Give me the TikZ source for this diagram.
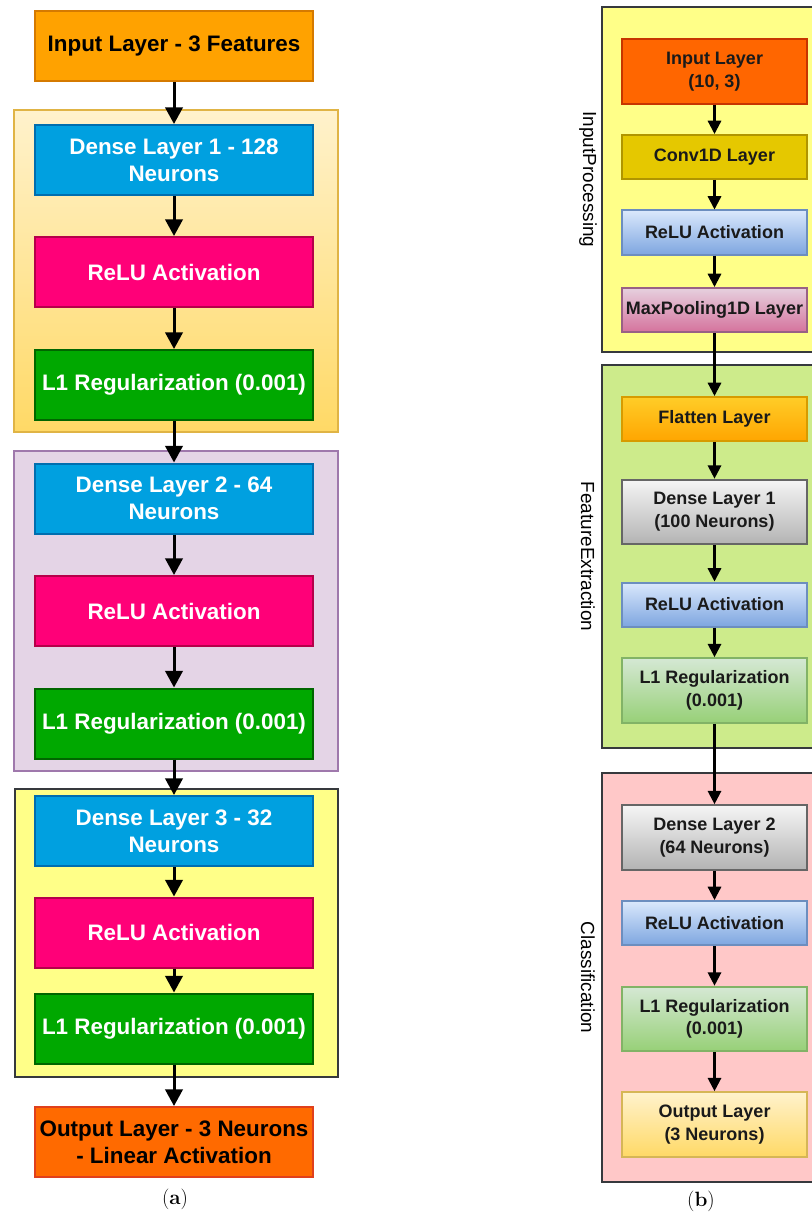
\documentclass[tikz,border=0pt]{standalone}
\usepackage{fontspec}
\usetikzlibrary{arrows.meta}
\newfontfamily\arialfont{Liberation Sans}

% left panel colours
\definecolor{inFill}{HTML}{FFA200}
\definecolor{inDraw}{HTML}{D57A00}
\definecolor{denseFill}{HTML}{00A0E0}
\definecolor{denseDraw}{HTML}{006EAF}
\definecolor{reluFill}{HTML}{FF0078}
\definecolor{reluDraw}{HTML}{B5004A}
\definecolor{regFill}{HTML}{00A800}
\definecolor{regDraw}{HTML}{006600}
\definecolor{outFill}{HTML}{FF6A00}
\definecolor{outDraw}{HTML}{E0401C}
\definecolor{gOneTop}{HTML}{FFF2CC}
\definecolor{gOneBot}{HTML}{FFD966}
\definecolor{gOneDraw}{HTML}{E0B445}
\definecolor{gTwoFill}{HTML}{E4D4E6}
\definecolor{gTwoDraw}{HTML}{9F78AC}
\definecolor{gThreeFill}{HTML}{FFFF88}
\definecolor{darkDraw}{HTML}{36393D}
% right panel colours
\definecolor{rInFill}{HTML}{FF6600}
\definecolor{rInDraw}{HTML}{C73500}
\definecolor{convFill}{HTML}{E5C800}
\definecolor{convDraw}{HTML}{B09500}
\definecolor{blueTop}{HTML}{DAE8FC}
\definecolor{blueBot}{HTML}{7EA6E0}
\definecolor{blueDraw}{HTML}{6C8EBF}
\definecolor{pinkTop}{HTML}{E6D0DE}
\definecolor{pinkBot}{HTML}{D5739D}
\definecolor{pinkDraw}{HTML}{996185}
\definecolor{orTop}{HTML}{FFCD28}
\definecolor{orBot}{HTML}{FFA500}
\definecolor{orDraw}{HTML}{D79B00}
\definecolor{grayTop}{HTML}{F5F5F5}
\definecolor{grayBot}{HTML}{B3B3B3}
\definecolor{grayDraw}{HTML}{666666}
\definecolor{greenTop}{HTML}{D5E8D4}
\definecolor{greenBot}{HTML}{97D077}
\definecolor{greenDraw}{HTML}{82B366}
\definecolor{yelTop}{HTML}{FFF2CC}
\definecolor{yelBot}{HTML}{FFD966}
\definecolor{yelDraw}{HTML}{D6B656}
\definecolor{feFill}{HTML}{CDEB8B}
\definecolor{clFill}{HTML}{FFC8C8}
\definecolor{txtDark}{HTML}{1A1A1A}

\begin{document}
\begin{tikzpicture}[x=0.75pt,y=-0.75pt,
  lbox/.style={rectangle, line width=1.5pt, minimum width=208.5pt,
    minimum height=52.5pt, inner sep=0pt, align=center,
    font=\arialfont\bfseries\fontsize{16.8}{20.2}\selectfont},
  ltxt/.style={text=white},
  rbox/.style={rectangle, line width=1.5pt, minimum width=138.75pt,
    minimum height=33pt, inner sep=0pt, align=center, text=txtDark,
    font=\arialfont\bfseries\fontsize{13.5}{17}\selectfont},
  rtall/.style={minimum height=48.5pt},
  grp/.style={line width=1.5pt},
  glabel/.style={rotate=-90, font=\arialfont\fontsize{14.2}{17}\selectfont},
  larrow/.style={line width=2.25pt, -{Triangle[width=13pt,length=12.5pt]}},
  rarrow/.style={line width=1.7pt, -{Triangle[width=10pt,length=10pt]}},
  caption/.style={font=\fontsize{15.5}{18}\selectfont}
]
\useasboundingbox (0,0) rectangle (811,1216);

% ---------- (a): dense network ----------
% group panels
\draw[grp, draw=gOneDraw, top color=gOneTop, bottom color=gOneBot] (14,110) rectangle (338,432);
\draw[grp, draw=gTwoDraw, fill=gTwoFill] (14,451) rectangle (338,771);
\draw[grp, draw=darkDraw, fill=gThreeFill] (15,789) rectangle (338,1077);

\node[lbox, fill=inFill, draw=inDraw] (ain) at (174,46.5) {Input Layer - 3 Features};
\node[lbox, ltxt, fill=denseFill, draw=denseDraw] (ad1) at (174,160) {Dense Layer 1 - 128\\Neurons};
\node[lbox, ltxt, fill=reluFill, draw=reluDraw] (ar1) at (174,272) {ReLU Activation};
\node[lbox, ltxt, fill=regFill, draw=regDraw] (al1) at (174,385) {L1 Regularization (0.001)};
\node[lbox, ltxt, fill=denseFill, draw=denseDraw] (ad2) at (174,498.5) {Dense Layer 2 - 64\\Neurons};
\node[lbox, ltxt, fill=reluFill, draw=reluDraw] (ar2) at (174,611) {ReLU Activation};
\node[lbox, ltxt, fill=regFill, draw=regDraw] (al2) at (174,723.5) {L1 Regularization (0.001)};
\node[lbox, ltxt, fill=denseFill, draw=denseDraw] (ad3) at (174,831) {Dense Layer 3 - 32\\Neurons};
\node[lbox, ltxt, fill=reluFill, draw=reluDraw] (ar3) at (174,932.5) {ReLU Activation};
\node[lbox, ltxt, fill=regFill, draw=regDraw] (al3) at (174,1028.5) {L1 Regularization (0.001)};
\node[lbox, fill=outFill, draw=outDraw] (aout) at (174,1142) {Output Layer - 3 Neurons\\- Linear Activation};

\foreach \s/\t in {ain/ad1, ad1/ar1, ar1/al1, al1/ad2, ad2/ar2, ar2/al2, al2/ad3, ad3/ar3, ar3/al3, al3/aout}
  \draw[larrow] (\s) -- (\t);

\node[caption] (capa) at (175,1199) {(\textbf{a})};

% ---------- (b): convolutional network ----------
\draw[grp, draw=darkDraw, fill=gThreeFill] (602,7) rectangle (830,352);
\draw[grp, draw=darkDraw, fill=feFill] (602,365) rectangle (830,748);
\draw[grp, draw=darkDraw, fill=clFill] (602,773) rectangle (830,1182);

\node[glabel] (lip) at (588,179.5) {InputProcessing};
\node[glabel] (lfe) at (588,556.5) {FeatureExtraction};
\node[glabel] (lcl) at (588,977.5) {Classification};

\node[rbox, rtall, fill=rInFill, draw=rInDraw] (bin) at (714.5,71.5) {Input Layer\\(10, 3)};
\node[rbox, fill=convFill, draw=convDraw] (bconv) at (714.5,157) {Conv1D Layer};
\node[rbox, top color=blueTop, bottom color=blueBot, draw=blueDraw] (br1) at (714.5,232.5) {ReLU Activation};
\node[rbox, top color=pinkTop, bottom color=pinkBot, draw=pinkDraw] (bpool) at (714.5,310) {MaxPooling1D Layer};
\node[rbox, top color=orTop, bottom color=orBot, draw=orDraw] (bflat) at (714.5,419) {Flatten Layer};
\node[rbox, rtall, top color=grayTop, bottom color=grayBot, draw=grayDraw] (bd1) at (714.5,512) {Dense Layer 1\\(100 Neurons)};
\node[rbox, top color=blueTop, bottom color=blueBot, draw=blueDraw] (br2) at (714.5,604.5) {ReLU Activation};
\node[rbox, rtall, top color=greenTop, bottom color=greenBot, draw=greenDraw] (bl1) at (714.5,690.5) {L1 Regularization\\(0.001)};
\node[rbox, rtall, top color=grayTop, bottom color=grayBot, draw=grayDraw] (bd2) at (714.5,837.5) {Dense Layer 2\\(64 Neurons)};
\node[rbox, top color=blueTop, bottom color=blueBot, draw=blueDraw] (br3) at (714.5,923) {ReLU Activation};
\node[rbox, rtall, top color=greenTop, bottom color=greenBot, draw=greenDraw] (bl2) at (714.5,1019) {L1 Regularization\\(0.001)};
\node[rbox, rtall, top color=yelTop, bottom color=yelBot, draw=yelDraw] (bout) at (714.5,1124.5) {Output Layer\\(3 Neurons)};

\foreach \s/\t in {bin/bconv, bconv/br1, br1/bpool, bpool/bflat, bflat/bd1, bd1/br2, br2/bl1, bl1/bd2, bd2/br3, br3/bl2, bl2/bout}
  \draw[rarrow] (\s) -- (\t);

\node[caption] (capb) at (701,1201) {(\textbf{b})};
\end{tikzpicture}
\end{document}
